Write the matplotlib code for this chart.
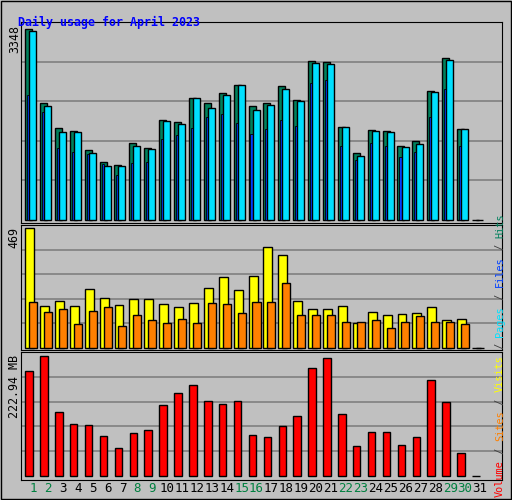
import matplotlib.pyplot as plt
import numpy as np

days = np.arange(1, 32)
hits = [3348, 2051, 1613, 1560, 1227, 1017, 964, 1350, 1262, 1753, 1718, 2139, 2051, 2226, 2367,
        1998, 2051, 2349, 2104, 2787, 2770, 1630, 1175, 1578, 1560, 1297, 1385, 2261, 2840, 1595, 0]
files = [2191, 1893, 1262, 1192, 1157, 982, 789, 999, 1017, 1420, 1490, 1613, 1806, 1858, 1700,
         1500, 1600, 1750, 1650, 2400, 2450, 1300, 1050, 1350, 1300, 1100, 1200, 1800, 2300, 1300, 0]
pages = [3313, 1998, 1543, 1543, 1175, 947, 947, 1297, 1245, 1735, 1683, 2139, 1963, 2191, 2367,
         1928, 2016, 2296, 2086, 2752, 2735, 1630, 1122, 1560, 1543, 1280, 1332, 2244, 2805, 1595, 0]
visits = [469, 164, 184, 164, 231, 195, 168, 191, 191, 172, 160, 176, 234, 277, 227,
          281, 395, 363, 184, 152, 152, 164, 98, 141, 129, 133, 137, 160, 109, 113, 0]
sites = [180, 141, 152, 94, 145, 160, 86, 129, 109, 98, 113, 98, 176, 172, 137,
         180, 180, 254, 129, 129, 129, 102, 102, 109, 78, 102, 125, 102, 102, 94, 0]
volume = [195.1, 222.94, 118.9, 96.6, 94.8, 74.3, 52.0, 79.9, 85.5, 131.9, 154.2, 169.1, 139.4, 133.8, 139.4,
          76.2, 72.5, 92.9, 111.5, 200.7, 219.2, 115.2, 55.7, 81.8, 81.8, 57.6, 72.5, 178.4, 137.5, 42.7, 0]
weekend = [1, 2, 8, 9, 15, 16, 22, 23, 29, 30]

bg = '#c0c0c0'
mono = 'DejaVu Sans Mono'
fig = plt.figure(figsize=(5.12, 5.0), dpi=100, facecolor=bg)

def panel(rect, ylim):
    ax = fig.add_axes(rect, facecolor=bg)
    ax.set_xlim(0.19, 32.5)
    ax.set_ylim(*ylim)
    for k in range(1, 5):
        ax.axhline(ylim[1] * k / 5, color='#808080', lw=1.2, zorder=0)
    ax.set_xticks([])
    ax.set_yticks([])
    for s in ax.spines.values():
        s.set_color('black')
    return ax

ek = dict(edgecolor='black', linewidth=1)
ax1 = panel([0.041, 0.554, 0.94, 0.402], (-53, 3471))
ax1.bar(days - 0.3, hits, 0.47, color='#00805c', **ek)
ax1.bar(days - 0.33, files, 0.15, color='#0040ff', edgecolor='black', linewidth=0.6)
ax1.bar(days - 0.03, pages, 0.47, color='#00e0ff', **ek)

ax2 = panel([0.041, 0.3, 0.94, 0.25], (-8, 481))
ax2.bar(days - 0.23, visits, 0.6, color='#ffff00', **ek)
ax2.bar(days, sites, 0.54, color='#ff8000', **ek)

ax3 = panel([0.041, 0.04, 0.94, 0.256], (-7.4, 230.4))
ax3.bar(days - 0.27, volume, 0.5, color='#ff0000', **ek)
for d in days:
    ax3.text(d, -0.07, str(d), transform=ax3.get_xaxis_transform(), ha='center', va='center',
             fontsize=9, family=mono, color='#008040' if d in weekend else 'black')

fig.text(0.035, 0.955, 'Daily usage for April 2023', fontsize=8.4, family=mono,
         weight='bold', color='#0000ff', va='center')
fig.text(0.028, 0.95, '3348', rotation=90, fontsize=8.4, family=mono, ha='center', va='top')
fig.text(0.028, 0.545, '469', rotation=90, fontsize=8.4, family=mono, ha='center', va='top')
fig.text(0.028, 0.29, '222.94 MB', rotation=90, fontsize=8.4, family=mono, ha='center', va='top')

parts = [('Volume', '#ff0000'), (' / ', '#404040'), ('Sites', '#ff8000'), (' / ', '#404040'),
         ('Visits', '#ffff00'), (' / ', '#404040'), ('Pages', '#00e0ff'), (' / ', '#404040'),
         ('Files', '#0040ff'), (' / ', '#404040'), ('Hits', '#00805c')]
y = 497.0
for txt, col in parts:
    fig.text(500 / 512, 1 - y / 500, txt, rotation=90, fontsize=7.4, family=mono,
             color=col, ha='center', va='bottom')
    y -= len(txt) * 6.17

fig.patches.append(plt.Rectangle((0.002, 0.002), 0.996, 0.996, transform=fig.transFigure,
                                 fill=False, edgecolor='black', lw=1))
fig.savefig('out.png', dpi=100, facecolor=bg)
